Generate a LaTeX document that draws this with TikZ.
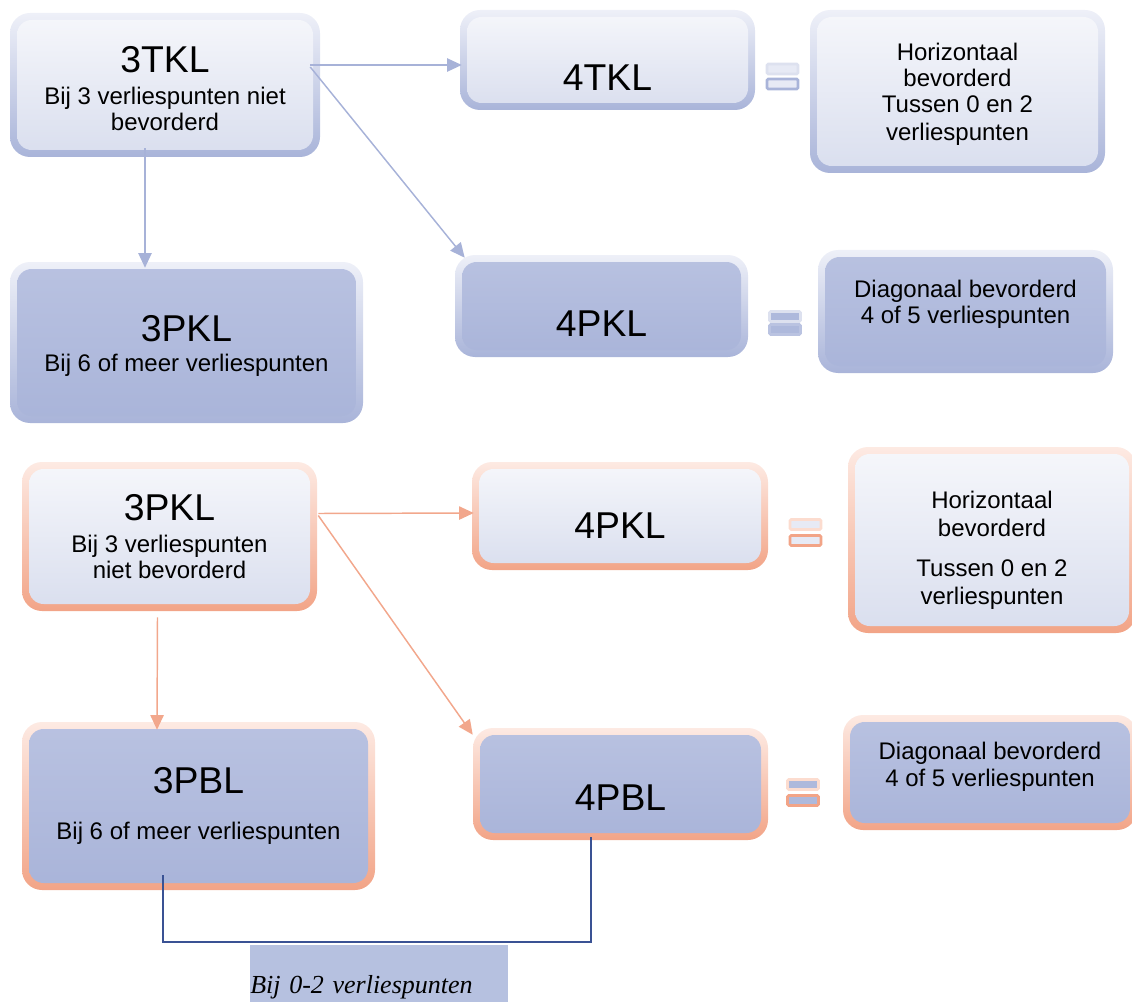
\documentclass[tikz,border=0pt]{standalone}
\usepackage{fontspec}
\setmainfont{Liberation Sans}
\newfontfamily\timesfont{Liberation Serif}
\usetikzlibrary{arrows.meta}
\definecolor{bTop}{HTML}{EEF0F8}
\definecolor{bBot}{HTML}{A9B4D9}
\definecolor{sTop}{HTML}{FDEAE3}
\definecolor{sBot}{HTML}{F2A487}
\definecolor{lTop}{HTML}{F6F7FB}
\definecolor{lBot}{HTML}{D9DEEE}
\definecolor{dTop}{HTML}{B9C2E1}
\definecolor{dBot}{HTML}{A9B4D9}
\definecolor{arrB}{HTML}{A7B2D8}
\definecolor{arrS}{HTML}{F2A78C}
\definecolor{brk}{HTML}{3A5294}
\definecolor{lblfill}{HTML}{B6C1E0}
\definecolor{eqLight}{HTML}{DDE1EF}
\definecolor{eqFill}{HTML}{E7EAF5}
\definecolor{eqDark}{HTML}{AEB9DC}
\definecolor{eqSLight}{HTML}{FCDCCF}
\newcommand\ttl[1]{{\fontsize{28}{30}\selectfont #1}}
\tikzset{
  gbox/.style n args={4}{rectangle, rounded corners=15pt, top color=#1, bottom color=#2,
    inner sep=0pt, align=center, font=\fontsize{18}{19.5}\selectfont,
    path picture={\shade[top color=#3, bottom color=#4, rounded corners=11pt]
      ([shift={(5.25pt,-5.25pt)}]path picture bounding box.north west) rectangle
      ([shift={(-5.25pt,5.25pt)}]path picture bounding box.south east);}},
  blight/.style={gbox={bTop}{bBot}{lTop}{lBot}},
  bdark/.style={gbox={bTop}{bBot}{dTop}{dBot}},
  slight/.style={gbox={sTop}{sBot}{lTop}{lBot}},
  sdark/.style={gbox={sTop}{sBot}{dTop}{dBot}},
  sz/.style 2 args={minimum width=#1*0.75pt, minimum height=#2*0.75pt},
  arrowB/.style={draw=arrB, line width=1.1pt, -{Triangle[length=11pt,width=10pt]}},
  arrowS/.style={draw=arrS, line width=1.1pt, -{Triangle[length=11pt,width=10pt]}},
  eqbar/.style n args={2}{rectangle, rounded corners=1pt, draw=#1, fill=#2, line width=2pt,
    minimum width=23.25pt, minimum height=7.5pt, inner sep=0pt},
}
\begin{document}
\begin{tikzpicture}[x=0.75pt, y=-0.75pt]
\useasboundingbox (0,0) rectangle (1132,1002);
\clip (0,0) rectangle (1132,1002);

% ---- top section (blue) ----
\node[blight, sz={310}{144}] (t3) at (165,85)
  {\rule{0pt}{25pt}\ttl{3TKL}\\[4pt] Bij 3 verliespunten niet\\ bevorderd};
\node[blight, sz={295}{100}, text height=45.6pt, text depth=0pt] (t4) at (607.5,60) {\ttl{4TKL}};
\node[blight, sz={295}{163}] (th) at (957.5,91.5)
  {\rule{0pt}{17pt}Horizontaal\\ bevorderd\\ Tussen 0 en 2\\[2pt] verliespunten};
\node[bdark, sz={353}{161}] (p3) at (186.5,342.5)
  {\rule{0pt}{25pt}\ttl{3PKL}\\[3pt] Bij 6 of meer verliespunten};
\node[bdark, sz={293}{102}, text height=45.6pt, text depth=0pt] (p4) at (601.5,306) {\ttl{4PKL}};
\node[bdark, sz={295}{123}] (pd) at (965.5,311.5)
  {Diagonaal bevorderd\\ 4 of 5 verliespunten\\[-5pt]};

% equals signs (top)
\node[eqbar={eqLight}{eqFill}] (e1a) at (782.5,69) {};
\node[eqbar={bBot}{eqFill}] (e1b) at (782.5,84) {};
\node[eqbar={eqLight}{eqDark}] (e2a) at (785,316.5) {};
\node[eqbar={bBot!80}{eqDark}] (e2b) at (785,329.5) {};

% ---- bottom section (salmon) ----
\node[slight, sz={295}{149}] (b3) at (169.5,536.5)
  {\ttl{3PKL}\\[4pt] Bij 3 verliespunten\\ niet bevorderd};
\node[slight, sz={296}{108}, text height=33.6pt, text depth=0pt] (b4) at (620,516) {\ttl{4PKL}};
\node[slight, sz={288}{186}] (bh) at (992,540)
  {\rule{0pt}{28pt}Horizontaal\\[1.5pt] bevorderd\\[10.5pt] Tussen 0 en 2\\[1.5pt] verliespunten};
\node[sdark, sz={353}{168}] (bl3) at (198.5,806)
  {\ttl{3PBL}\\[14.5pt] Bij 6 of meer verliespunten};
\node[sdark, sz={295}{112}, text height=39.6pt, text depth=0pt] (bl4) at (620.5,784) {\ttl{4PBL}};
\node[sdark, sz={294}{115}] (bd) at (990,772.5)
  {Diagonaal bevorderd\\[1pt] 4 of 5 verliespunten\\[-7.5pt]};

% equals signs (bottom)
\node[eqbar={eqSLight}{eqFill}] (e3a) at (805.5,524.5) {};
\node[eqbar={sBot}{eqFill}] (e3b) at (805.5,540.5) {};
\node[eqbar={eqSLight}{eqDark}] (e4a) at (803,784.5) {};
\node[eqbar={sBot}{eqDark}] (e4b) at (803,800.5) {};

% ---- arrows ----
\draw[arrowB] ([shift={(-10,-20)}]t3.east) -- ([shift={(2,5)}]t4.west);
\draw[arrowB] ([shift={(-10,-18)}]t3.east) -- ([shift={(10,3)}]p4.north west);
\draw[arrowB] ([shift={(-20,-9)}]t3.south) -- ([shift={(-41.5,6)}]p3.north);

\draw[arrowS] ([shift={(1,-23)}]b3.east) -- ([shift={(2,-3)}]b4.west);
\draw[arrowS] ([shift={(1,-21)}]b3.east) -- ([shift={(0,7)}]bl4.north west);
\draw[arrowS] ([shift={(-12,6)}]b3.south) -- ([shift={(-41.5,8)}]bl3.north);

% ---- bracket and label ----
\node[rectangle, fill=lblfill, anchor=north west, minimum width=193.5pt, minimum height=45pt,
  text width=193.5pt, align=left, inner sep=0pt, text height=27pt, text depth=0pt,
  font=\timesfont\itshape\fontsize{19.5}{22}\selectfont] (lbl) at (250,945) {Bij 0-2 verliespunten};
\coordinate (kb) at (376,942);
\draw[draw=brk, line width=1.5pt] ([shift={(-36,-15)}]bl3.south) |- (kb) -| ([shift={(-30,-3)}]bl4.south);
\end{tikzpicture}
\end{document}
